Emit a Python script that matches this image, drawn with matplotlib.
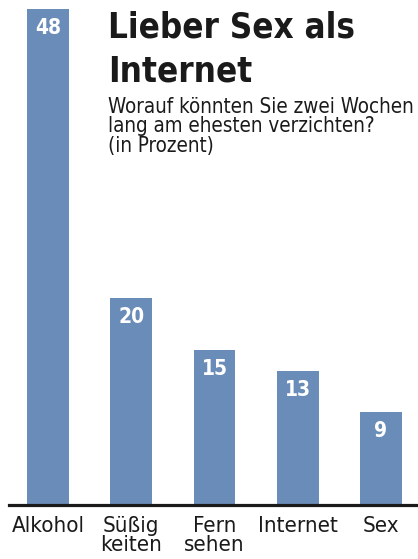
import matplotlib
matplotlib.use("Agg")
import matplotlib.pyplot as plt

categories = ["Alkohol", "Süßig\nkeiten", "Fern\nsehen", "Internet", "Sex"]
values = [48, 20, 15, 13, 9]
value_labels = ["48", "20", "15", "13", "9"]

title_lines = ["Lieber Sex als", "Internet"]
subtitle_lines = ["Worauf könnten Sie zwei Wochen", "lang am ehesten verzichten?", "(in Prozent)"]

FONT = "DejaVu Sans"
STRETCH = "condensed"
bar_color = "#6a8cb8"
ink = "#1a1a1a"
W, H = 418, 559
fig = plt.figure(figsize=(W / 100, H / 100), dpi=100)

left, right = 9, 418
base, top = 505, 9
ax = fig.add_axes([left / W, 1 - base / H, (right - left) / W, (base - top) / H])
x = list(range(len(categories)))
ax.bar(x, values, width=0.504, color=bar_color, clip_on=False, zorder=2)
ax.set_xlim(-0.468, 4.444)
ax.set_ylim(0, 48)
for s in ["top", "right", "left"]:
    ax.spines[s].set_visible(False)
ax.spines["bottom"].set_linewidth(2.3)
ax.spines["bottom"].set_color(ink)
ax.spines["bottom"].set_zorder(3)
ax.set_yticks([])
ax.set_xticks(x)
ax.set_xticklabels(categories, fontfamily=FONT, fontstretch=STRETCH, fontsize=16,
                   linespacing=0.95, color=ink)
ax.tick_params(axis="x", length=0, pad=8)

for xi, v, lab in zip(x, values, value_labels):
    ax.annotate(lab, (xi, v), xytext=(0, -9), textcoords="offset pixels",
                ha="center", va="top", color="white", fontweight="bold",
                fontfamily=FONT, fontstretch=STRETCH, fontsize=15)

for i, line in enumerate(title_lines):
    fig.text(108 / W, 1 - (38 + 44 * i) / H, line, fontfamily=FONT, fontstretch=STRETCH,
             fontweight="bold", fontsize=25, color=ink, va="baseline", ha="left")
for i, line in enumerate(subtitle_lines):
    fig.text(108 / W, 1 - (113 + 19.5 * i) / H, line, fontfamily=FONT, fontstretch=STRETCH,
             fontsize=14.8, color=ink, va="baseline", ha="left")

fig.savefig("out.png", dpi=100)
